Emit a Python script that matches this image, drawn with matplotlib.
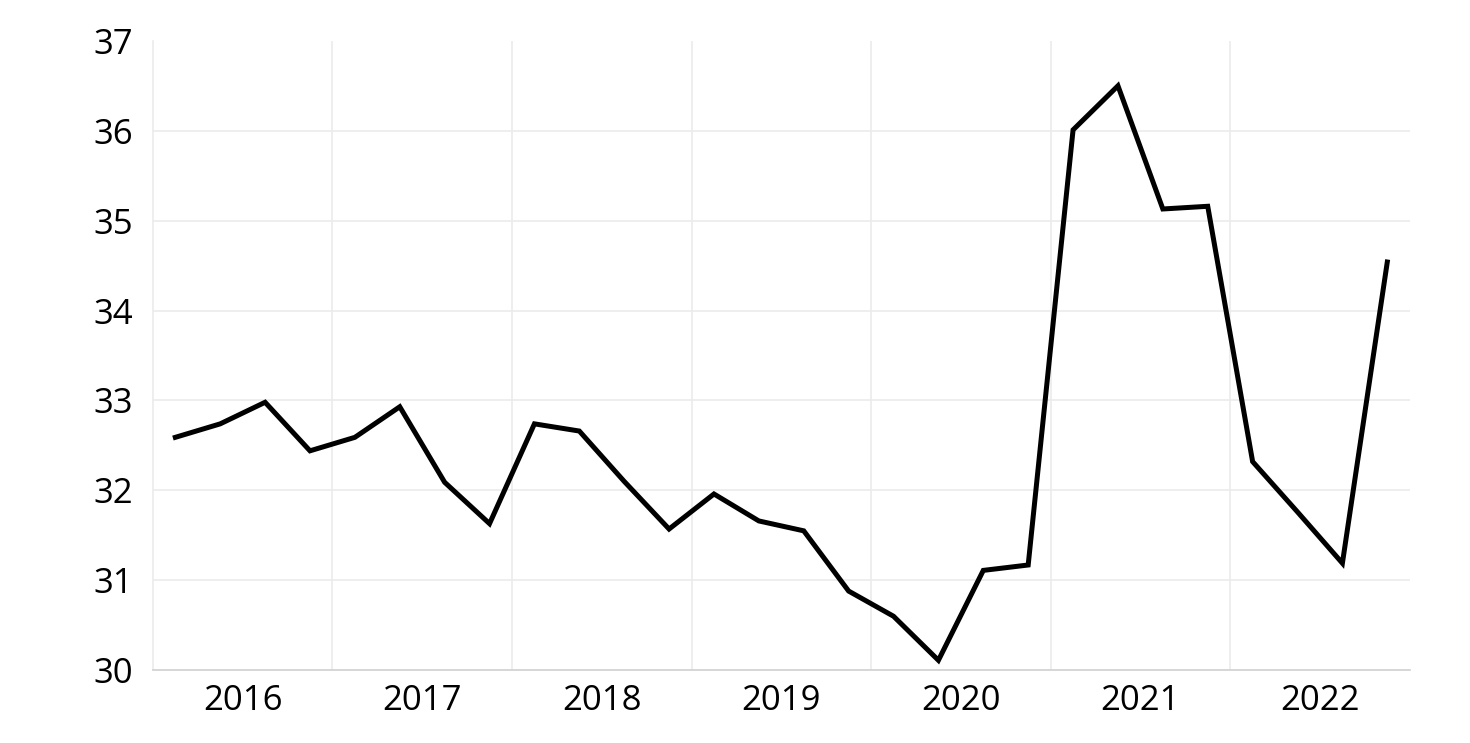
import matplotlib
matplotlib.use("Agg")
import matplotlib.pyplot as plt
import numpy as np

years = ["2016", "2017", "2018", "2019", "2020", "2021", "2022"]
quarters_per_year = 4
values = [32.59, 32.74, 32.98, 32.44, 32.59, 32.93, 32.09, 31.63,
          32.74, 32.66, 32.10, 31.57, 31.96, 31.66, 31.55, 30.88,
          30.60, 30.11, 31.11, 31.17, 36.01, 36.50, 35.13, 35.16,
          32.32, 31.76, 31.19, 34.54]
yticks = [30, 31, 32, 33, 34, 35, 36, 37]

plt.rcParams['font.family'] = ['Open Sans', 'DejaVu Sans']

fig = plt.figure(figsize=(14.7, 7.43), dpi=100)
ax = fig.add_axes([0.104, 0.098, 0.855, 0.847])

x = np.arange(len(values))
n = len(years) * quarters_per_year
ax.set_xlim(-0.5, n - 0.5)
ax.set_ylim(yticks[0], yticks[-1])

grid_c = "#ebebeb"
for yt in yticks[1:-1]:
    ax.axhline(yt, color=grid_c, lw=1.2, zorder=0)
for k in range(1, len(years)):
    ax.axvline(k * quarters_per_year - 0.5, color=grid_c, lw=1.2, zorder=0)

ax.plot(x, values, color="black", lw=3.6, solid_joinstyle="miter", zorder=3)

ax.set_yticks(yticks)
ax.set_yticklabels([str(v) for v in yticks])
ax.set_xticks([k * quarters_per_year + (quarters_per_year - 1) / 2 for k in range(len(years))])
ax.set_xticklabels(years)
ax.tick_params(axis="both", length=0, labelsize=25, colors="black")
ax.tick_params(axis="y", pad=14)
ax.tick_params(axis="x", pad=10)

for s in ["top", "right"]:
    ax.spines[s].set_visible(False)
ax.spines["left"].set_color(grid_c)
ax.spines["left"].set_linewidth(1.2)
ax.spines["bottom"].set_color("#d0d0d0")
ax.spines["bottom"].set_linewidth(1.2)

fig.savefig("out.png", dpi=100, facecolor="white")
